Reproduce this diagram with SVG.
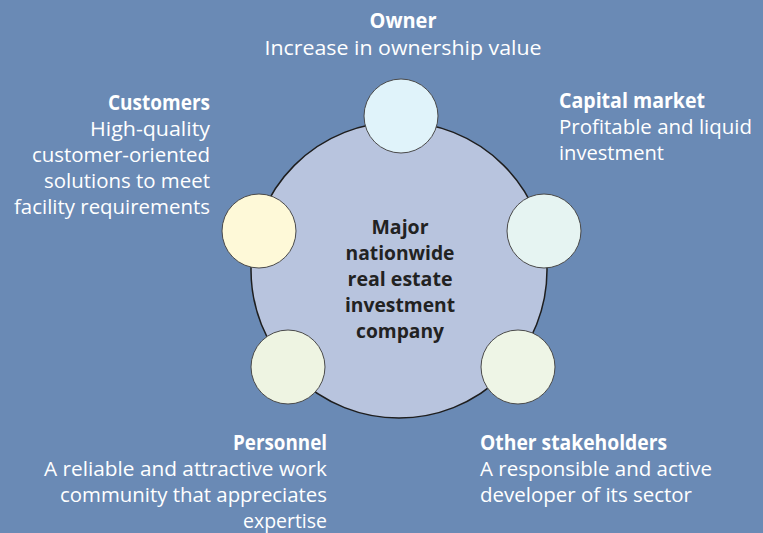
<svg xmlns="http://www.w3.org/2000/svg" width="763" height="533" viewBox="0 0 763 533">
  <style>
    .lbl { font-family: "Open Sans", "Liberation Sans", sans-serif; font-size: 20.5px; fill: #ffffff; }
    .hd { font-weight: bold; }
    .ctr { font-family: "Open Sans", "Liberation Sans", sans-serif; font-size: 19.5px; font-weight: bold; fill: #222222; text-anchor: middle; }
    .end { text-anchor: end; }
    .mid { text-anchor: middle; }
    .sat { stroke: #4a4a4a; stroke-width: 1; }
  </style>
  <rect width="763" height="533" fill="#6a8ab5"/>

  <g id="hub">
    <circle cx="399" cy="270" r="148" fill="#b8c4de" stroke="#1e1e1e" stroke-width="1.5"/>
    <text class="ctr" x="400" y="234" textLength="57" lengthAdjust="spacingAndGlyphs">Major</text>
    <text class="ctr" x="400" y="260" textLength="109" lengthAdjust="spacingAndGlyphs">nationwide</text>
    <text class="ctr" x="400" y="286" textLength="105" lengthAdjust="spacingAndGlyphs">real estate</text>
    <text class="ctr" x="400" y="312" textLength="110" lengthAdjust="spacingAndGlyphs">investment</text>
    <text class="ctr" x="400" y="338" textLength="88" lengthAdjust="spacingAndGlyphs">company</text>
  </g>

  <g id="owner">
    <circle class="sat" cx="401" cy="116" r="37" fill="#e0f3fa"/>
    <text class="lbl hd mid" x="403" y="28" textLength="67" lengthAdjust="spacingAndGlyphs">Owner</text>
    <text class="lbl mid" x="403" y="55" textLength="277" lengthAdjust="spacingAndGlyphs">Increase in ownership value</text>
  </g>

  <g id="capital-market">
    <circle class="sat" cx="544" cy="231" r="37" fill="#e6f4f2"/>
    <text class="lbl hd" x="559" y="108" textLength="146" lengthAdjust="spacingAndGlyphs">Capital market</text>
    <text class="lbl" x="559" y="134" textLength="193" lengthAdjust="spacingAndGlyphs">Profitable and liquid</text>
    <text class="lbl" x="559" y="160" textLength="105" lengthAdjust="spacingAndGlyphs">investment</text>
  </g>

  <g id="customers">
    <circle class="sat" cx="259" cy="231" r="37" fill="#fef9d8"/>
    <text class="lbl hd end" x="210" y="110" textLength="102" lengthAdjust="spacingAndGlyphs">Customers</text>
    <text class="lbl end" x="210" y="136" textLength="120" lengthAdjust="spacingAndGlyphs">High-quality</text>
    <text class="lbl end" x="210" y="162" textLength="178" lengthAdjust="spacingAndGlyphs">customer-oriented</text>
    <text class="lbl end" x="210" y="188" textLength="166" lengthAdjust="spacingAndGlyphs">solutions to meet</text>
    <text class="lbl end" x="210" y="214" textLength="196" lengthAdjust="spacingAndGlyphs">facility requirements</text>
  </g>

  <g id="personnel">
    <circle class="sat" cx="288" cy="367" r="37" fill="#eef4e2"/>
    <text class="lbl hd end" x="327" y="450" textLength="94" lengthAdjust="spacingAndGlyphs">Personnel</text>
    <text class="lbl end" x="327" y="476" textLength="283" lengthAdjust="spacingAndGlyphs">A reliable and attractive work</text>
    <text class="lbl end" x="327" y="502" textLength="267" lengthAdjust="spacingAndGlyphs">community that appreciates</text>
    <text class="lbl end" x="327" y="528" textLength="84" lengthAdjust="spacingAndGlyphs">expertise</text>
  </g>

  <g id="other-stakeholders">
    <circle class="sat" cx="518" cy="367" r="37" fill="#eef5e6"/>
    <text class="lbl hd" x="480" y="450" textLength="187" lengthAdjust="spacingAndGlyphs">Other stakeholders</text>
    <text class="lbl" x="480" y="476" textLength="232" lengthAdjust="spacingAndGlyphs">A responsible and active</text>
    <text class="lbl" x="480" y="502" textLength="212" lengthAdjust="spacingAndGlyphs">developer of its sector</text>
  </g>

  <g id="connectors"></g>
</svg>
